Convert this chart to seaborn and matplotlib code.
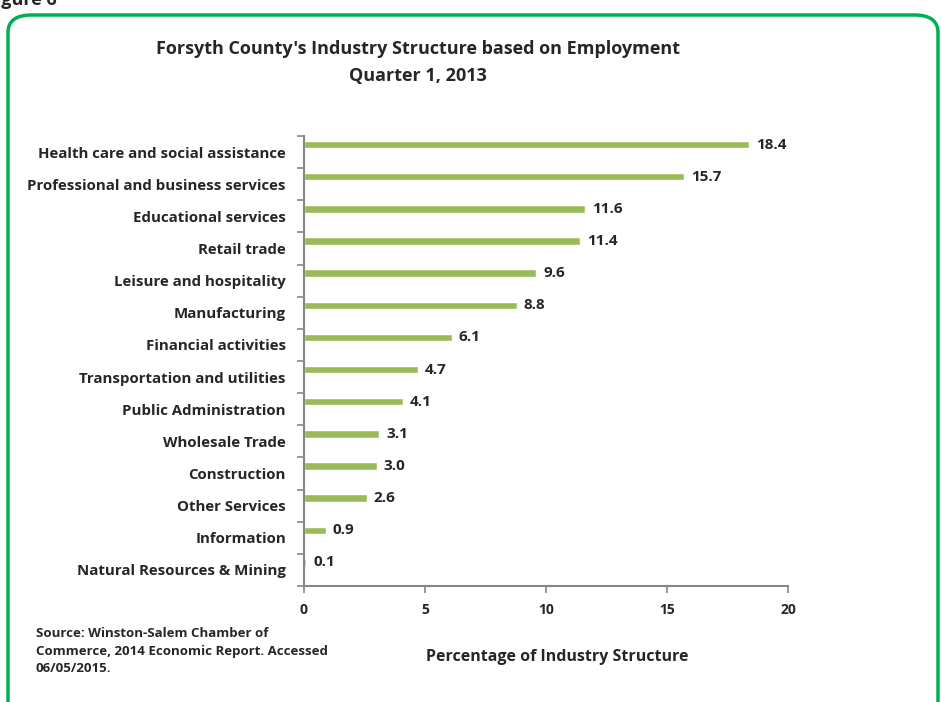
import numpy as np
import pandas as pd
import matplotlib.pyplot as plt
from matplotlib.patches import FancyBboxPatch
import seaborn as sns

# Industry shares, Q1 2013
industries = ["Health care and social assistance", "Professional and business services",
              "Educational services", "Retail trade", "Leisure and hospitality",
              "Manufacturing", "Financial activities", "Transportation and utilities",
              "Public Administration", "Wholesale Trade", "Construction",
              "Other Services", "Information", "Natural Resources & Mining"]
shares = [18.4, 15.7, 11.6, 11.4, 9.6, 8.8, 6.1, 4.7, 4.1, 3.1, 3.0, 2.6, 0.9, 0.1]
x_ticks = [0, 5, 10, 15, 20]

df = pd.DataFrame({"Industry": industries, "Share": shares})

sns.set_style("white")
plt.rcParams['font.family'] = ['Open Sans', 'DejaVu Sans']
plt.rcParams['font.weight'] = 'bold'

fig = plt.figure(figsize=(9.41, 7.02), dpi=100)
ax = fig.add_axes([304 / 941, 1 - 586 / 702, 484 / 941, 450 / 702])

sns.barplot(data=df, x="Share", y="Industry", color="#9BBB59", saturation=1,
            width=0.23, ax=ax)

# bars sit in the upper part of each category band, as in the Excel original
shift = 0.268
n = len(industries)
grey = "#868686"
ax.set_xlim(0, 20)
ax.set_ylim(n - 0.5 + 0.5 - shift, -shift)
ax.set_xticks(x_ticks)
ax.set_xticklabels([str(t) for t in x_ticks], fontsize=10, fontweight="bold")
ax.set_yticks(np.arange(n) + 0.5 - shift)
ax.set_yticklabels(industries, fontsize=10.8, fontweight="bold")
ax.set_yticks(np.arange(n + 1) - shift, minor=True)
ax.tick_params(axis="y", which="major", length=0, pad=13)
ax.tick_params(axis="y", which="minor", length=5, color=grey, width=1.2, direction="out", left=True)
ax.tick_params(axis="x", length=5, color=grey, width=1.2, direction="out", bottom=True, pad=7)
for s in ["top", "right"]:
    ax.spines[s].set_visible(False)
for s in ["left", "bottom"]:
    ax.spines[s].set_color(grey)
    ax.spines[s].set_linewidth(1.5)
ax.set_xlabel("")
ax.set_ylabel("")

for i, v in enumerate(shares):
    ax.annotate(f"{v:.1f}", (v, i), xytext=(5, 0), textcoords="offset points",
                va="center", ha="left", fontsize=11, fontweight="bold")

fig.text(418 / 941, 1 - 49 / 702, "Forsyth County's Industry Structure based on Employment",
         ha="center", va="center", fontsize=13, fontweight="bold")
fig.text(418 / 941, 1 - 76 / 702, "Quarter 1, 2013",
         ha="center", va="center", fontsize=13, fontweight="bold")
fig.text(557 / 941, 1 - 657 / 702, "Percentage of Industry Structure",
         ha="center", va="center", fontsize=11.5, fontweight="bold")
fig.text(36 / 941, 1 - 627 / 702,
         "Source: Winston-Salem Chamber of\nCommerce, 2014 Economic Report. Accessed\n06/05/2015.",
         ha="left", va="top", fontsize=9.5, fontweight="bold", linespacing=1.45)
fig.text(-14 / 941, 1 - 0 / 702, "Figure 6", ha="left", va="center",
         fontsize=13, fontweight="bold")

border = FancyBboxPatch((8 / 941, -20 / 702), 930 / 941, 707 / 702,
                        boxstyle="round,pad=0,rounding_size=0.025",
                        transform=fig.transFigure, fill=False,
                        edgecolor="#00B050", linewidth=2.5)
fig.patches.append(border)

fig.savefig("out.png", dpi=100)
